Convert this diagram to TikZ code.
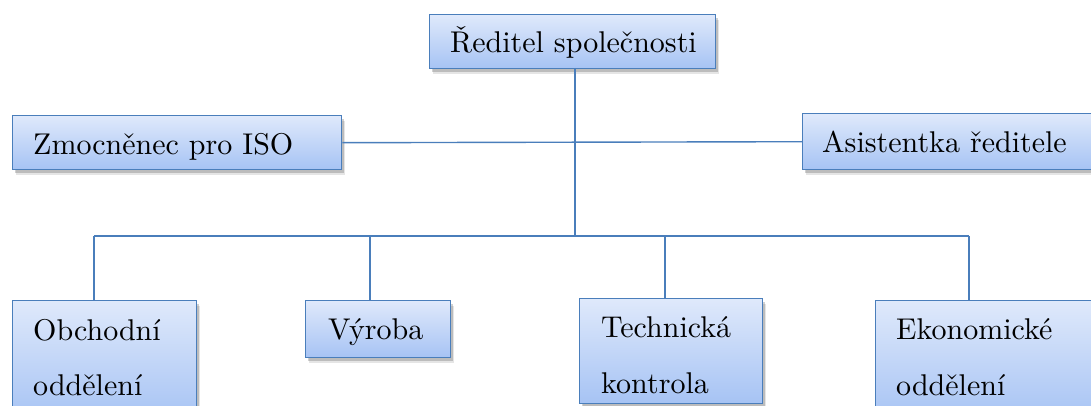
\documentclass[tikz,border=0pt]{standalone}
\usepackage{fontspec}
\newfontfamily\lmten{lmroman10-regular.otf}
\usetikzlibrary{shadows}
\definecolor{boxline}{HTML}{4A7EBB}
\definecolor{boxtop}{HTML}{DFE9FB}
\definecolor{boxbot}{HTML}{A6C3F4}
\begin{document}
\begin{tikzpicture}[x=1pt,y=-1pt,
  orgbox/.style={draw=boxline, line width=1.4pt, top color=boxtop, bottom color=boxbot,
    rectangle, inner sep=0pt, anchor=north west,
    drop shadow={shadow xshift=3.5pt, shadow yshift=-5.5pt, fill=black, opacity=0.10},
    drop shadow={shadow xshift=2pt, shadow yshift=-3pt, fill=black, opacity=0.18}},
  lbl/.style={anchor=base west, inner sep=0pt, font=\lmten\fontsize{30}{36}\selectfont},
  conn/.style={draw=boxline, line width=1.4pt}]
\useasboundingbox (0,0) rectangle (1091,406);
\clip (0,0) rectangle (1091,406);
% boxes
\node[orgbox, minimum width=286pt, minimum height=54pt] (top) at (429,14) {};
\node[orgbox, minimum width=329pt, minimum height=54pt] (zm) at (12,115) {};
\node[orgbox, minimum width=300pt, minimum height=56pt] (as) at (802,113) {};
\node[orgbox, minimum width=184pt, minimum height=120pt] (ob) at (12,300) {};
\node[orgbox, minimum width=145pt, minimum height=57pt] (vy) at (305,300) {};
\node[orgbox, minimum width=183pt, minimum height=105pt] (tk) at (579,298) {};
\node[orgbox, minimum width=230pt, minimum height=120pt] (ek) at (875,300) {};
% texts
\node[lbl] (ttop) at (450,53) {Ředitel společnosti};
\node[lbl] (tzm) at (33,155) {Zmocněnec pro ISO};
\node[lbl] (tas) at (822,153) {Asistentka ředitele};
\node[lbl] (tob1) at (33,340) {Obchodní};
\node[lbl] (tob2) at (33,395) {oddělení};
\node[lbl] (tvy) at (328,339) {Výroba};
\node[lbl] (ttk1) at (601,337) {Technická};
\node[lbl] (ttk2) at (601,393) {kontrola};
\node[lbl] (tek1) at (896,339) {Ekonomické};
\node[lbl] (tek2) at (896,395) {oddělení};
% connectors
\coordinate (bus) at (575,236);
\coordinate (busL) at (94,236);
\coordinate (busV) at (370,236);
\coordinate (busT) at (665,236);
\coordinate (busR) at (969,236);
\coordinate (topS) at (575,68);
\draw[conn] (zm.east) -- (as.west);
\draw[conn] (topS) -- (bus);
\draw[conn] (busL) -- (busR);
\draw[conn] (busL) -- (busL |- ob.north);
\draw[conn] (busV) -- (busV |- vy.north);
\draw[conn] (busT) -- (busT |- tk.north);
\draw[conn] (busR) -- (busR |- ek.north);
\end{tikzpicture}
\end{document}
